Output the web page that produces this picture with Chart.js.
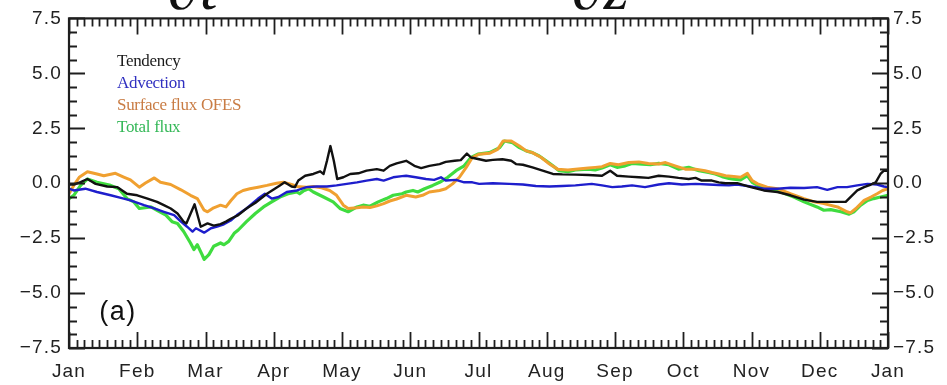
<!DOCTYPE html>
<html>
<head>
<meta charset="utf-8">
<script src="https://cdn.jsdelivr.net/npm/chart.js@4.4.1/dist/chart.umd.min.js"></script>
<style>
  html, body { margin: 0; padding: 0; background: #fff; }
  canvas { display: block; }
</style>
</head>
<body>
<canvas id="c" width="947" height="385"></canvas>
<script>
// Month labels along the x axis (positions 0..12, one unit per month)
const monthLabels = ['Jan', 'Feb', 'Mar', 'Apr', 'May', 'Jun', 'Jul', 'Aug', 'Sep', 'Oct', 'Nov', 'Dec', 'Jan'];

// Y axis tick values
const yTicks = [-7.5, -5.0, -2.5, 0.0, 2.5, 5.0, 7.5];

// Series names shown in the in-plot legend
const seriesNames = ['Tendency', 'Advection', 'Surface flux OFES', 'Total flux'];

// Each series: [month position, value]
const tendency = [
  [0,-0.06],[0.07,-0.06],[0.17,0.05],[0.27,0.19],[0.39,-0.03],[0.56,-0.15],[0.71,-0.18],[0.85,-0.48],
  [1.00,-0.55],[1.15,-0.70],[1.29,-0.85],[1.39,-1.00],[1.49,-1.15],[1.59,-1.38],[1.68,-1.75],[1.72,-1.83],
  [1.84,-0.96],[1.93,-1.98],[2.03,-1.83],[2.12,-1.93],[2.22,-1.86],[2.30,-1.75],[2.37,-1.62],[2.48,-1.45],
  [2.60,-1.15],[2.75,-0.85],[2.90,-0.48],[3.09,-0.10],[3.16,0.04],[3.26,-0.15],[3.31,-0.18],[3.36,0.12],
  [3.46,0.34],[3.58,0.42],[3.68,0.54],[3.73,0.42],[3.78,1.02],[3.83,1.69],[3.88,1.02],[3.93,0.19],
  [4.02,0.27],[4.12,0.42],[4.24,0.45],[4.36,0.57],[4.51,0.64],[4.61,0.57],[4.70,0.79],[4.80,0.90],
  [4.94,1.02],[5.06,0.79],[5.16,0.69],[5.28,0.79],[5.43,0.87],[5.52,0.97],[5.65,1.02],[5.74,1.05],
  [5.83,1.35],[5.89,1.17],[6.01,1.09],[6.11,1.02],[6.21,1.06],[6.35,1.09],[6.48,1.02],[6.55,0.87],
  [6.65,0.84],[6.79,0.72],[6.94,0.57],[7.09,0.42],[7.23,0.40],[7.42,0.39],[7.61,0.37],[7.81,0.34],
  [7.93,0.57],[8.03,0.34],[8.20,0.30],[8.35,0.27],[8.49,0.24],[8.64,0.34],[8.79,0.30],[8.93,0.24],
  [9.08,0.19],[9.18,0.24],[9.27,0.12],[9.42,0.12],[9.52,0.04],[9.62,0.00],[9.79,0.00],[9.99,-0.18],
  [10.18,-0.33],[10.38,-0.40],[10.57,-0.55],[10.77,-0.75],[10.96,-0.85],[11.21,-0.85],[11.38,-0.85],
  [11.45,-0.63],[11.55,-0.33],[11.65,-0.18],[11.75,-0.06],[11.82,0.04],[11.89,0.42],[11.94,0.57],[12.0,0.57]
];

const advection = [
  [0,-0.25],[0.07,-0.33],[0.24,-0.25],[0.41,-0.40],[0.61,-0.55],[0.76,-0.67],[0.90,-0.78],[1.10,-1.00],
  [1.25,-1.15],[1.39,-1.30],[1.54,-1.45],[1.64,-1.75],[1.73,-1.98],[1.81,-2.20],[1.86,-2.05],[1.98,-2.25],
  [2.08,-2.05],[2.17,-1.98],[2.27,-1.87],[2.37,-1.70],[2.46,-1.45],[2.60,-1.15],[2.77,-0.70],[2.87,-0.48],
  [2.97,-0.70],[3.07,-0.63],[3.19,-0.40],[3.34,-0.33],[3.48,-0.18],[3.63,-0.15],[3.78,-0.15],[3.92,-0.10],
  [4.07,-0.03],[4.22,0.04],[4.36,0.12],[4.51,0.19],[4.61,0.12],[4.75,0.27],[4.88,0.32],[4.94,0.34],
  [5.08,0.27],[5.23,0.19],[5.35,0.15],[5.45,0.27],[5.52,0.12],[5.67,0.15],[5.79,0.04],[5.91,0.04],
  [6.01,-0.03],[6.21,0.00],[6.45,-0.03],[6.65,-0.06],[6.84,-0.13],[7.04,-0.15],[7.23,-0.13],[7.42,-0.10],
  [7.66,-0.03],[7.81,-0.10],[7.96,-0.18],[8.10,-0.15],[8.25,-0.10],[8.44,-0.18],[8.64,-0.06],[8.79,0.00],
  [8.98,-0.06],[9.18,-0.03],[9.37,-0.06],[9.52,-0.08],[9.67,-0.10],[9.79,-0.06],[9.99,-0.15],[10.18,-0.25],
  [10.38,-0.25],[10.57,-0.21],[10.77,-0.22],[10.96,-0.18],[11.11,-0.30],[11.26,-0.18],[11.40,-0.18],
  [11.55,-0.10],[11.70,-0.03],[11.84,-0.06],[11.94,-0.15],[12.0,-0.18]
];

const surfaceFlux = [
  [0,-0.48],[0.07,-0.10],[0.15,0.27],[0.27,0.52],[0.41,0.42],[0.51,0.34],[0.68,0.45],[0.81,0.27],
  [0.90,0.15],[1.03,-0.18],[1.12,0.01],[1.25,0.24],[1.34,0.04],[1.49,-0.06],[1.64,-0.30],[1.78,-0.55],
  [1.88,-0.70],[1.98,-1.23],[2.03,-1.30],[2.12,-1.12],[2.22,-1.00],[2.30,-1.08],[2.37,-0.80],[2.46,-0.48],
  [2.55,-0.33],[2.65,-0.25],[2.77,-0.18],[2.90,-0.10],[3.04,0.00],[3.14,0.04],[3.26,-0.06],[3.34,-0.15],
  [3.48,-0.18],[3.58,-0.15],[3.70,-0.21],[3.82,-0.33],[3.92,-0.55],[4.02,-1.00],[4.09,-1.15],[4.22,-1.12],
  [4.31,-1.08],[4.41,-1.11],[4.51,-1.03],[4.61,-0.93],[4.70,-0.81],[4.80,-0.72],[4.94,-0.55],[5.08,-0.63],
  [5.18,-0.55],[5.28,-0.40],[5.43,-0.33],[5.52,-0.25],[5.62,-0.03],[5.72,0.27],[5.82,0.72],[5.91,1.17],
  [6.01,1.32],[6.16,1.36],[6.28,1.54],[6.36,1.92],[6.48,1.92],[6.60,1.69],[6.70,1.47],[6.79,1.39],
  [6.92,1.17],[7.04,0.87],[7.16,0.64],[7.31,0.60],[7.42,0.64],[7.61,0.69],[7.71,0.72],[7.81,0.75],
  [7.93,0.90],[8.05,0.84],[8.20,0.94],[8.35,0.97],[8.49,0.90],[8.64,0.87],[8.74,0.94],[8.88,0.79],
  [9.03,0.64],[9.18,0.64],[9.32,0.57],[9.42,0.49],[9.52,0.42],[9.62,0.34],[9.74,0.30],[9.84,0.27],
  [9.94,0.45],[10.01,0.12],[10.09,-0.03],[10.23,-0.18],[10.38,-0.25],[10.57,-0.48],[10.77,-0.70],
  [10.92,-0.85],[11.06,-0.93],[11.26,-1.08],[11.40,-1.30],[11.45,-1.35],[11.53,-1.15],[11.65,-0.78],
  [11.75,-0.63],[11.84,-0.48],[11.92,-0.33],[12.0,-0.25]
];

const totalFlux = [
  [0,-0.70],[0.07,-0.55],[0.17,-0.10],[0.27,0.19],[0.41,0.04],[0.61,-0.10],[0.73,-0.25],[0.85,-0.70],
  [0.95,-0.85],[1.03,-1.15],[1.20,-1.08],[1.29,-1.23],[1.42,-1.45],[1.51,-1.75],[1.59,-1.83],[1.68,-2.20],
  [1.78,-2.72],[1.83,-3.02],[1.88,-2.80],[1.95,-3.25],[1.98,-3.47],[2.05,-3.25],[2.12,-2.87],[2.22,-2.72],
  [2.27,-2.80],[2.34,-2.65],[2.42,-2.28],[2.48,-2.13],[2.60,-1.75],[2.73,-1.38],[2.85,-1.08],[2.97,-0.85],
  [3.09,-0.63],[3.21,-0.48],[3.34,-0.40],[3.38,-0.48],[3.43,-0.36],[3.51,-0.25],[3.58,-0.40],[3.73,-0.63],
  [3.87,-0.85],[3.97,-1.15],[4.09,-1.30],[4.22,-1.08],[4.31,-1.00],[4.41,-1.05],[4.53,-0.85],[4.65,-0.70],
  [4.75,-0.55],[4.88,-0.48],[4.94,-0.40],[5.04,-0.33],[5.11,-0.40],[5.21,-0.25],[5.33,-0.10],[5.43,0.04],
  [5.55,0.27],[5.67,0.57],[5.79,0.79],[5.89,1.17],[5.99,1.32],[6.16,1.39],[6.31,1.62],[6.38,1.92],
  [6.50,1.84],[6.60,1.62],[6.70,1.47],[6.79,1.39],[6.89,1.24],[6.99,1.02],[7.09,0.79],[7.18,0.57],
  [7.31,0.52],[7.42,0.60],[7.61,0.64],[7.71,0.60],[7.81,0.69],[7.93,0.84],[8.03,0.72],[8.15,0.79],
  [8.25,0.90],[8.40,0.87],[8.52,0.84],[8.64,0.90],[8.79,0.84],[8.93,0.64],[9.08,0.72],[9.23,0.57],
  [9.37,0.49],[9.47,0.42],[9.57,0.30],[9.67,0.22],[9.74,0.18],[9.84,0.15],[9.94,0.34],[10.01,0.04],
  [10.09,-0.10],[10.23,-0.25],[10.43,-0.40],[10.62,-0.63],[10.77,-0.85],[10.96,-1.08],[11.06,-1.23],
  [11.16,-1.20],[11.31,-1.30],[11.43,-1.41],[11.50,-1.30],[11.60,-1.00],[11.70,-0.78],[11.79,-0.70],
  [11.89,-0.63],[12.0,-0.55]
];

const lineColors = ['#111111', '#1e1ecc', '#f0a030', '#3fdc3f'];
const textColors = ['#1a1a1a', '#3030c0', '#c97c44', '#35b858'];
const lineWidths = [2.4, 2.4, 3, 3.2];

const toPoints = arr => arr.map(([x, y]) => ({ x, y }));
const seriesData = [tendency, advection, surfaceFlux, totalFlux];

const fmtY = v => (v < 0 ? '\u2212' : '') + Math.abs(v).toFixed(1);
const tickFont = { family: '"Liberation Sans", Arial, sans-serif', size: 19 };

// Box frame with inward major/minor tick marks on all four sides
const minorPerMonth = 9;
const minorPerYStep = 4;
const framePlugin = {
  id: 'frame',
  afterDatasetsDraw(chart) {
    const { ctx, chartArea: a, scales } = chart;
    const xs = scales.x, ys = scales.y;
    ctx.save();
    ctx.strokeStyle = '#1e1e1e';
    ctx.lineWidth = 1.8;
    ctx.beginPath();
    for (let i = 0; i <= 12 * minorPerMonth; i++) {
      const px = Math.round(xs.getPixelForValue(i / minorPerMonth)) + 0.5;
      const len = i % minorPerMonth === 0 ? 16 : 8;
      ctx.moveTo(px, a.bottom); ctx.lineTo(px, a.bottom - len);
      ctx.moveTo(px, a.top); ctx.lineTo(px, a.top + len);
    }
    const n = (yTicks.length - 1) * minorPerYStep;
    const step = (yTicks[1] - yTicks[0]) / minorPerYStep;
    for (let j = 0; j <= n; j++) {
      const py = Math.round(ys.getPixelForValue(yTicks[0] + j * step)) + 0.5;
      const len = j % minorPerYStep === 0 ? 16 : 8;
      ctx.moveTo(a.left, py); ctx.lineTo(a.left + len, py);
      ctx.moveTo(a.right, py); ctx.lineTo(a.right - len, py);
    }
    ctx.stroke();
    ctx.lineWidth = 2.2;
    ctx.strokeRect(a.left, a.top, a.right - a.left, a.bottom - a.top);
    ctx.restore();
  }
};

// Slightly wider spacing for axis tick labels
const spacingPlugin = {
  id: 'spacing',
  beforeDraw(chart) { chart.ctx.letterSpacing = '1.2px'; },
  afterDraw(chart) { chart.ctx.letterSpacing = '0px'; }
};

// In-plot coloured legend, panel tag and equation fragments above the frame
const textPlugin = {
  id: 'texts',
  afterDraw(chart) {
    const { ctx, chartArea: a } = chart;
    ctx.save();
    ctx.letterSpacing = '-0.3px';
    ctx.font = '17px "Liberation Serif", "Times New Roman", serif';
    ctx.textBaseline = 'middle';
    ctx.textAlign = 'left';
    seriesNames.forEach((name, i) => {
      ctx.fillStyle = textColors[i];
      ctx.fillText(name, a.left + 48, a.top + 43 + i * 22);
    });
    ctx.letterSpacing = '1.5px';
    ctx.fillStyle = '#111';
    ctx.font = '27px "Liberation Sans", Arial, sans-serif';
    ctx.textAlign = 'center';
    ctx.fillText('(a)', a.left + 49, a.bottom - 35);
    ctx.letterSpacing = '0px';
    ctx.font = 'italic 64px "Liberation Serif", "Times New Roman", serif';
    ctx.textAlign = 'left';
    ctx.textBaseline = 'alphabetic';
    ctx.fillText('\u2202t', 168, 9);
    ctx.fillText('\u2202z', 572, 9);
    ctx.restore();
  }
};

new Chart(document.getElementById('c'), {
  type: 'line',
  data: {
    datasets: seriesNames.map((name, i) => ({
      label: name,
      data: toPoints(seriesData[i]),
      borderColor: lineColors[i],
      borderWidth: lineWidths[i],
      pointRadius: 0,
      tension: 0,
      borderJoinStyle: 'round',
      fill: false
    }))
  },
  options: {
    responsive: false,
    devicePixelRatio: 1,
    animation: false,
    layout: { padding: { top: 14, left: 0, right: 0, bottom: 0 } },
    plugins: { legend: { display: false }, tooltip: { enabled: false } },
    scales: {
      x: {
        type: 'linear', min: 0, max: 12,
        grid: { display: false, drawTicks: false },
        border: { display: false },
        ticks: {
          stepSize: 1, autoSkip: false, maxRotation: 0, padding: 12,
          color: '#222', font: tickFont,
          callback: v => monthLabels[Math.round(v)]
        },
        afterFit: s => { s.height = 37; }
      },
      y: {
        position: 'left', min: yTicks[0], max: yTicks[yTicks.length - 1],
        grid: { display: false, drawTicks: false },
        border: { display: false },
        ticks: { stepSize: 2.5, padding: 7, color: '#222', font: tickFont, callback: fmtY },
        afterFit: s => { s.width = 69; }
      },
      y2: {
        position: 'right', min: yTicks[0], max: yTicks[yTicks.length - 1],
        grid: { display: false, drawTicks: false },
        border: { display: false },
        ticks: { stepSize: 2.5, padding: 5, color: '#222', font: tickFont, callback: fmtY },
        afterFit: s => { s.width = 59; }
      }
    }
  },
  plugins: [spacingPlugin, framePlugin, textPlugin]
});
</script>
</body>
</html>
